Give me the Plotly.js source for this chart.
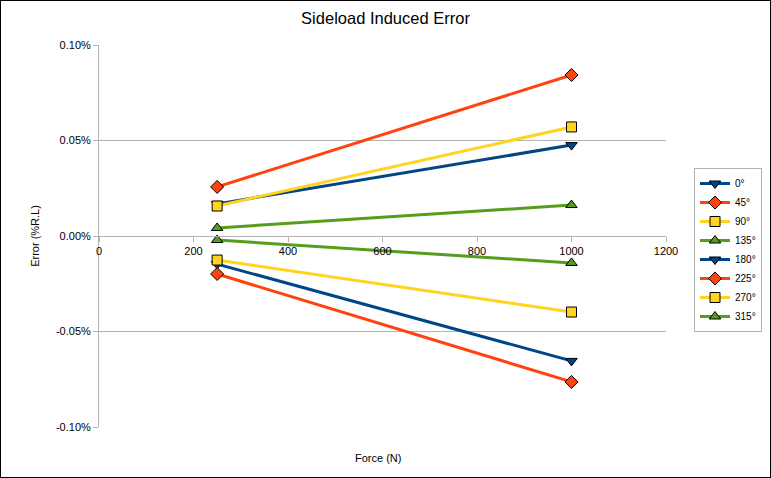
<!DOCTYPE html>
<html>
<head>
<meta charset="utf-8">
<script src="https://cdn.plot.ly/plotly-3.0.1.min.js"></script>
<style>
html,body{margin:0;padding:0;background:#fff;}
#wrap{position:relative;width:771px;height:478px;}
#chart{width:771px;height:478px;}
#frame{position:absolute;left:0;top:0;width:771px;height:478px;box-sizing:border-box;border:1px solid #000;pointer-events:none;}
</style>
</head>
<body>
<div id="wrap"><div id="chart"></div><div id="frame"></div></div>
<script>
// Data (error in % of rated load)
const force = [250, 1000];
const seriesNames = ["0°", "45°", "90°", "135°", "180°", "225°", "270°", "315°"];
const err0   = [0.0168, 0.0476];
const err45  = [0.0257, 0.0843];
const err90  = [0.0157, 0.0571];
const err135 = [0.0042, 0.0162];
const err180 = [-0.0147, -0.0654];
const err225 = [-0.0199, -0.0764];
const err270 = [-0.0126, -0.0398];
const err315 = [-0.0021, -0.0141];
const yTickVals = [-0.10, -0.05, 0.00, 0.05, 0.10];
const yTickText = ["-0.10%", "-0.05%", "0.00%", "0.05%", "0.10%"];
const xTickVals = [0, 200, 400, 600, 800, 1000, 1200];

const allSeries = [err0, err45, err90, err135, err180, err225, err270, err315];
const colors = ["#004586", "#ff420e", "#ffd320", "#579d1c", "#004586", "#ff420e", "#ffd320", "#579d1c"];
const symbols = ["triangle-down", "diamond", "square", "triangle-up", "triangle-down", "diamond", "square", "triangle-up"];

const traces = allSeries.map((ys, i) => ({
  type: "scatter",
  mode: "lines+markers",
  name: seriesNames[i],
  x: force,
  y: ys,
  line: {color: colors[i], width: 3},
  marker: {symbol: symbols[i], size: 10, color: colors[i], line: {color: "#000", width: 1}}
}));

const font = {family: "Liberation Sans, Arial, sans-serif", size: 11, color: "#000"};

const layout = {
  width: 771, height: 478,
  paper_bgcolor: "#fff", plot_bgcolor: "#fff",
  font: font,
  margin: {l: 99, r: 105, t: 45, b: 51, pad: 0},
  title: {text: "Sideload Induced Error", font: {family: font.family, size: 16.5, color: "#000"},
          x: 0.5, xref: "container", xanchor: "center", y: 1 - 18/478, yref: "container", yanchor: "middle"},
  showlegend: true,
  legend: {x: 694/771, xref: "container", y: 1 - 168/478, yref: "container", xanchor: "left", yanchor: "top",
           bordercolor: "#b3b3b3", borderwidth: 1, bgcolor: "#fff", font: {family: font.family, size: 10, color: "#000"},
           itemwidth: 30, tracegroupgap: 0},
  xaxis: {range: [0, 1200], anchor: "free", position: 0.5, tickvals: xTickVals, ticks: "outside", ticklen: 5,
          tickcolor: "#b3b3b3", showline: true, linecolor: "#b3b3b3", linewidth: 1, showgrid: false,
          zeroline: false, tickfont: font, fixedrange: true},
  yaxis: {range: [-0.10, 0.10], tickvals: yTickVals, ticktext: yTickText, ticks: "outside", ticklen: 5,
          tickcolor: "#b3b3b3", showline: true, linecolor: "#b3b3b3", showgrid: true, gridcolor: "#b3b3b3",
          gridwidth: 1, zeroline: false, tickfont: font,
          title: {text: "Error (%R.L)", font: font, standoff: 14}},
  annotations: [{text: "Force (N)", xref: "paper", yref: "paper", x: (378 - 99) / 567, y: (427 - 458) / 382,
                 xanchor: "center", yanchor: "middle", showarrow: false, font: font}]
};

Plotly.newPlot("chart", traces, layout, {displayModeBar: false, staticPlot: true});
</script>
</body>
</html>
